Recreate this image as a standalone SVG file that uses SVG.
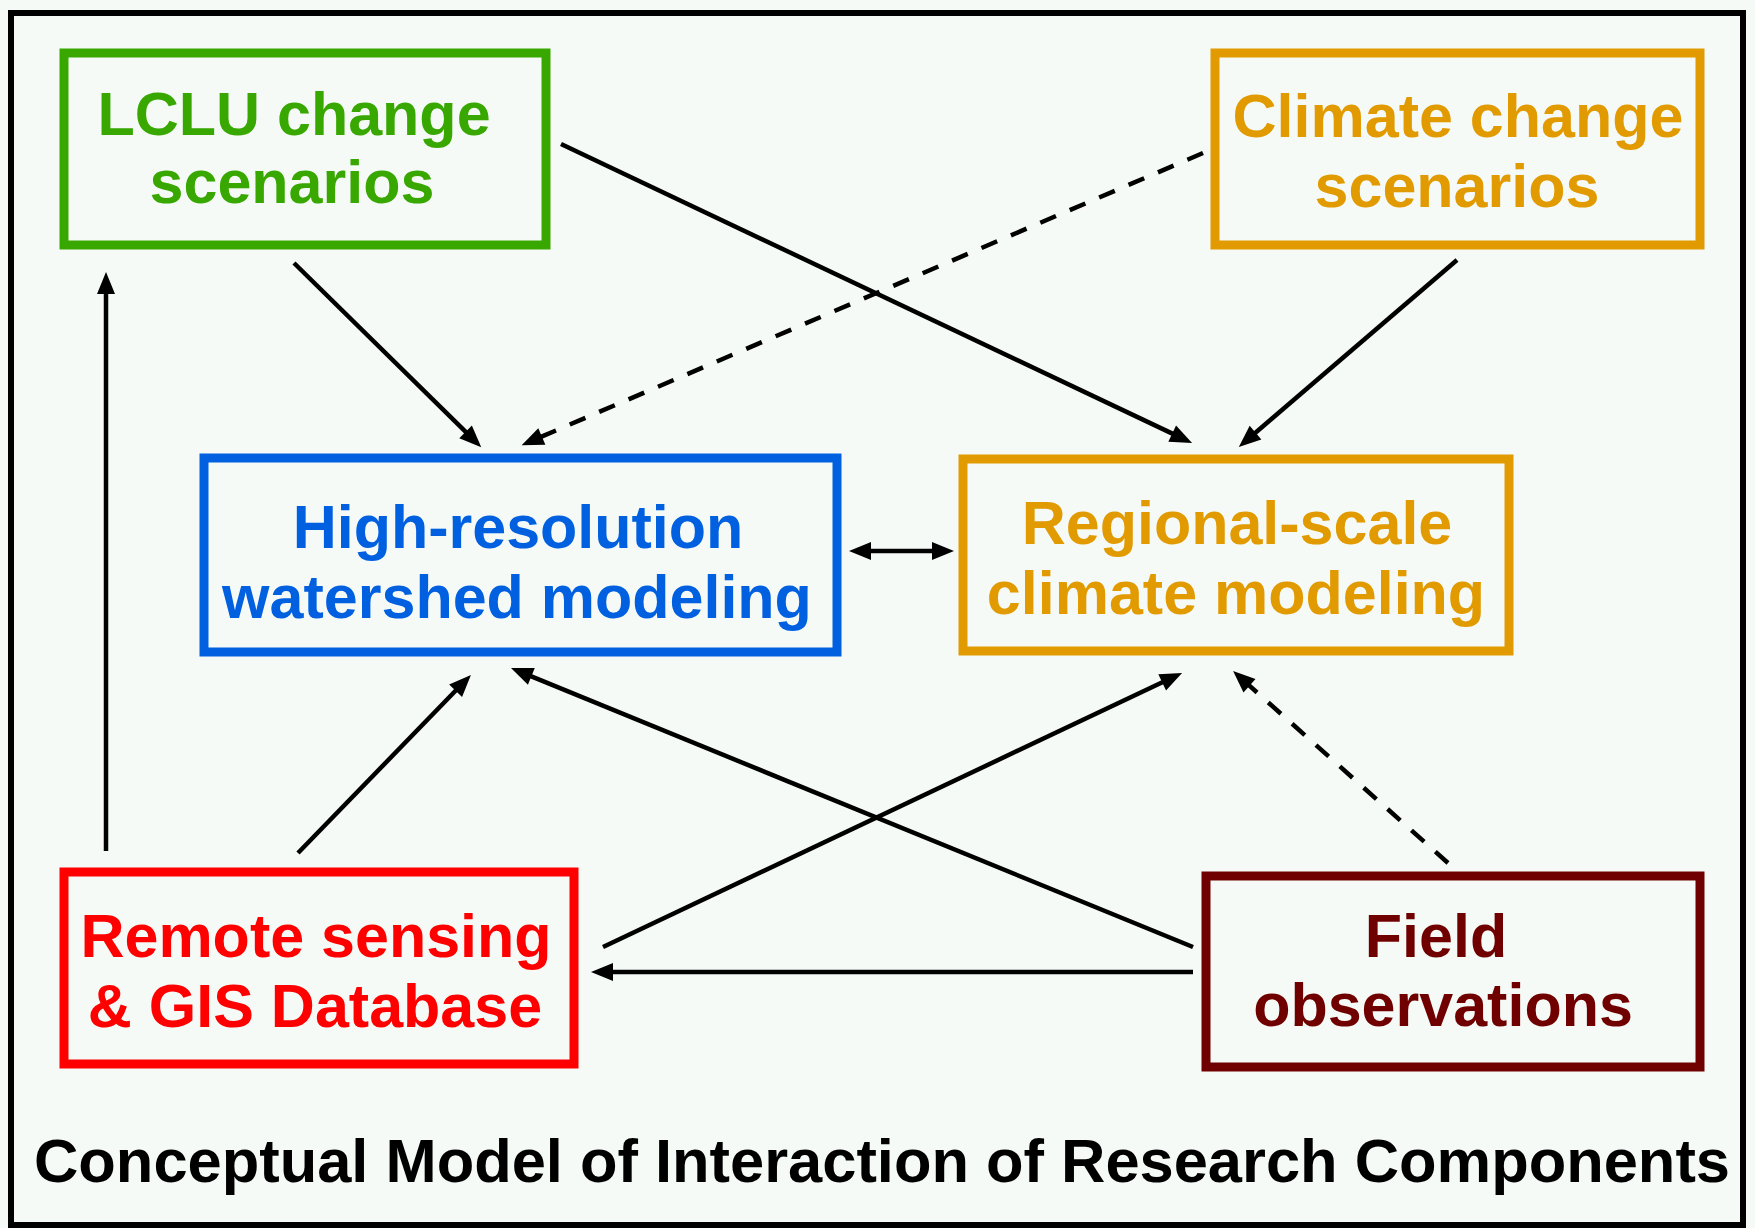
<svg xmlns="http://www.w3.org/2000/svg" width="1755" height="1228" viewBox="0 0 1755 1228">
  <defs>
    <marker id="ah" markerUnits="userSpaceOnUse" viewBox="0 0 22 18" markerWidth="22" markerHeight="18" refX="2" refY="9" orient="auto-start-reverse" overflow="visible">
      <path d="M0,0 L22,9 L0,18 z" fill="#000"/>
    </marker>
  </defs>
  <style>
    .box { fill: none; stroke-width: 9; stroke-linejoin: miter; }
    .lbl { font-family: "Liberation Sans", Arial, sans-serif; font-weight: bold; font-size: 61px; text-anchor: middle; }
    .link { fill: none; stroke: #000; stroke-width: 4.5; marker-end: url(#ah); }
    .dash { stroke-dasharray: 17 15; }
    .green { stroke: #38a800; }
    .orange { stroke: #e19b00; }
    .blue { stroke: #0060e0; }
    .red { stroke: #ff0000; }
    .maroon { stroke: #700000; }
  </style>

  <!-- page and frame -->
  <rect x="0" y="0" width="1755" height="1228" fill="#f5faf7"/>
  <rect x="11" y="13" width="1732" height="1212" fill="#f5faf7" stroke="#000" stroke-width="6"/>

  <!-- connectors -->
  <g id="connectors">
    <line class="link" x1="294" y1="263" x2="467" y2="433.2"/>
    <line class="link" x1="561" y1="144" x2="1174" y2="434.4"/>
    <line class="link dash" x1="1203" y1="153" x2="540" y2="437.3"/>
    <line class="link" x1="1457" y1="260" x2="1254" y2="434"/>
    <line class="link" x1="869" y1="551" x2="934" y2="551" marker-start="url(#ah)"/>
    <line class="link" x1="106" y1="851" x2="106" y2="292"/>
    <line class="link" x1="298" y1="853" x2="457" y2="689.3"/>
    <line class="link" x1="603" y1="947" x2="1164" y2="681.5"/>
    <line class="link" x1="1193" y1="947" x2="529.5" y2="675.6"/>
    <line class="link" x1="1193" y1="972" x2="611" y2="972"/>
    <line class="link dash" x1="1448" y1="863" x2="1248" y2="684.4"/>
  </g>

  <!-- nodes -->
  <g id="lclu">
    <rect class="box green" x="64" y="53" width="482" height="192"/>
    <text class="lbl" fill="#38a800" x="294" y="135">LCLU change</text>
    <text class="lbl" fill="#38a800" x="292" y="203">scenarios</text>
  </g>

  <g id="climate-scenarios">
    <rect class="box orange" x="1215" y="53" width="485" height="192"/>
    <text class="lbl" fill="#e19b00" x="1458" y="137">Climate change</text>
    <text class="lbl" fill="#e19b00" x="1457" y="207">scenarios</text>
  </g>

  <g id="watershed">
    <rect class="box blue" x="204" y="458" width="633" height="194"/>
    <text class="lbl" fill="#0060e0" x="518" y="548">High-resolution</text>
    <text class="lbl" fill="#0060e0" x="517" y="618">watershed modeling</text>
  </g>

  <g id="regional">
    <rect class="box orange" x="963" y="459" width="546" height="192"/>
    <text class="lbl" fill="#e19b00" x="1237" y="544">Regional-scale</text>
    <text class="lbl" fill="#e19b00" x="1236" y="614">climate modeling</text>
  </g>

  <g id="remote-sensing">
    <rect class="box red" x="64" y="872" width="510" height="192"/>
    <text class="lbl" fill="#ff0000" x="316" y="957">Remote sensing</text>
    <text class="lbl" fill="#ff0000" x="315" y="1027">&amp; GIS Database</text>
  </g>

  <g id="field">
    <rect class="box maroon" x="1206" y="876" width="494" height="191"/>
    <text class="lbl" fill="#700000" x="1436" y="957">Field</text>
    <text class="lbl" fill="#700000" x="1443" y="1026">observations</text>
  </g>

  <!-- caption -->
  <text id="caption" x="34" y="1182" textLength="1696" lengthAdjust="spacingAndGlyphs" font-family="Liberation Sans, Arial, sans-serif" font-weight="bold" font-size="61" fill="#000">Conceptual Model of Interaction of Research Components</text>
</svg>
